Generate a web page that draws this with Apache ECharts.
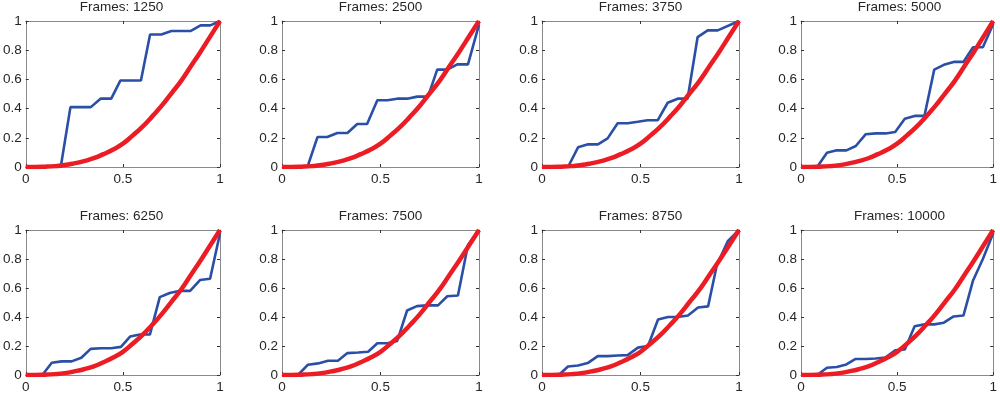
<!DOCTYPE html>
<html>
<head>
<meta charset="utf-8">
<script src="https://cdn.jsdelivr.net/npm/echarts@6/dist/echarts.min.js"></script>
<style>html,body{margin:0;padding:0;background:#fff}#c{width:1000px;height:394px}</style>
</head>
<body>
<div id="c"></div>
<script>
const panelTitles = ['Frames: 1250','Frames: 2500','Frames: 3750','Frames: 5000','Frames: 6250','Frames: 7500','Frames: 8750','Frames: 10000'];

const blue1250 = [[0,0],[0.18,0],[0.23,0.41],[0.335,0.41],[0.385,0.468],[0.44,0.468],[0.487,0.592],[0.593,0.592],[0.64,0.908],[0.698,0.908],[0.75,0.932],[0.85,0.932],[0.9,0.97],[0.95,0.97],[1,1]];
const blue2500 = [[0,0],[0.129,0],[0.18,0.205],[0.23,0.205],[0.281,0.233],[0.332,0.233],[0.382,0.295],[0.432,0.295],[0.484,0.457],[0.535,0.457],[0.585,0.468],[0.636,0.468],[0.687,0.482],[0.741,0.482],[0.788,0.667],[0.839,0.667],[0.89,0.703],[0.944,0.703],[1,0.975]];
const blue3750 = [[0,0],[0.132,0],[0.183,0.135],[0.234,0.155],[0.284,0.155],[0.333,0.196],[0.384,0.30],[0.435,0.30],[0.486,0.31],[0.536,0.32],[0.587,0.32],[0.638,0.44],[0.689,0.468],[0.739,0.468],[0.79,0.89],[0.841,0.936],[0.892,0.936],[1,1]];
const blue5000 = [[0,0],[0.084,0],[0.135,0.098],[0.186,0.114],[0.236,0.114],[0.285,0.144],[0.336,0.224],[0.389,0.23],[0.439,0.23],[0.49,0.24],[0.54,0.33],[0.591,0.35],[0.642,0.35],[0.693,0.667],[0.743,0.70],[0.794,0.72],[0.845,0.72],[0.895,0.82],[0.946,0.82],[1,0.98]];
const blue6250 = [[0,0],[0.085,0],[0.134,0.084],[0.185,0.094],[0.236,0.094],[0.286,0.119],[0.334,0.18],[0.388,0.185],[0.439,0.185],[0.49,0.194],[0.537,0.265],[0.588,0.279],[0.639,0.279],[0.69,0.537],[0.741,0.566],[0.788,0.58],[0.846,0.58],[0.897,0.655],[0.949,0.664],[1,0.977]];
const blue7500 = [[0,0],[0.081,0],[0.132,0.071],[0.183,0.08],[0.234,0.098],[0.284,0.098],[0.332,0.151],[0.386,0.155],[0.437,0.16],[0.484,0.219],[0.535,0.219],[0.585,0.235],[0.635,0.445],[0.685,0.475],[0.736,0.48],[0.792,0.48],[0.839,0.543],[0.893,0.548],[0.944,0.897],[1,1]];
const blue8750 = [[0,0],[0.085,0],[0.132,0.059],[0.183,0.066],[0.232,0.082],[0.283,0.13],[0.333,0.13],[0.384,0.135],[0.435,0.137],[0.487,0.189],[0.538,0.2],[0.589,0.383],[0.64,0.40],[0.689,0.40],[0.741,0.41],[0.792,0.466],[0.843,0.473],[0.888,0.76],[0.944,0.925],[1,1]];
const blue10000 = [[0,0],[0.084,0],[0.135,0.05],[0.186,0.055],[0.236,0.073],[0.282,0.11],[0.338,0.11],[0.389,0.114],[0.439,0.121],[0.49,0.171],[0.54,0.176],[0.591,0.336],[0.642,0.349],[0.693,0.349],[0.743,0.361],[0.794,0.404],[0.845,0.41],[0.895,0.652],[0.946,0.80],[1,0.98]];
const blueSeries = [blue1250, blue2500, blue3750, blue5000, blue6250, blue7500, blue8750, blue10000];

const refX = [0,0.05,0.1,0.15,0.2,0.25,0.3,0.35,0.4,0.45,0.5,0.55,0.6,0.65,0.7,0.75,0.8,0.85,0.9,0.95,1];
const refY = [0,0,0.002,0.006,0.013,0.025,0.04,0.06,0.088,0.12,0.16,0.215,0.275,0.345,0.42,0.505,0.59,0.69,0.79,0.895,1];

const xTicks = [0, 0.5, 1];
const yTicks = [0, 0.2, 0.4, 0.6, 0.8, 1];

const lefts = [23, 282, 542, 801];
const tops = [21, 230];
const W = 197, H = 146;
const FONT = 'Liberation Sans, Arial, sans-serif';
const FS = 13.5;

const grids = [], xAxes = [], yAxes = [], series = [], titles = [];
const refData = refX.map((x, i) => [x, refY[i]]);

for (let p = 0; p < 8; p++) {
  const r = Math.floor(p / 4), c = p % 4;
  grids.push({left: lefts[c], top: tops[r], width: W, height: H, containLabel: false});
  const lineStyle = {color: '#8a8a8a', width: 1};
  const tickStyle = {inside: true, length: 3, lineStyle: {color: '#333', width: 1}};
  xAxes.push({type: 'value', gridIndex: p, min: 0, max: 1, interval: 0.5, position: 'bottom',
    axisLine: {show: true, lineStyle}, axisTick: tickStyle, splitLine: {show: false},
    axisLabel: {color: '#262626', fontSize: FS, fontFamily: FONT, margin: 5,
      formatter: v => xTicks.includes(+v.toFixed(2)) ? String(+v.toFixed(2)) : ''}});
  xAxes.push({type: 'value', gridIndex: p, min: 0, max: 1, interval: 0.5, position: 'top',
    axisLine: {show: true, onZero: false, lineStyle}, axisTick: tickStyle, splitLine: {show: false},
    axisLabel: {show: false}});
  yAxes.push({type: 'value', gridIndex: p, min: 0, max: 1, interval: 0.2, position: 'left',
    axisLine: {show: true, lineStyle}, axisTick: tickStyle, splitLine: {show: false},
    axisLabel: {color: '#262626', fontSize: FS, fontFamily: FONT, margin: 4,
      formatter: v => String(+v.toFixed(2))}});
  yAxes.push({type: 'value', gridIndex: p, min: 0, max: 1, interval: 0.2, position: 'right',
    axisLine: {show: true, onZero: false, lineStyle}, axisTick: tickStyle, splitLine: {show: false},
    axisLabel: {show: false}});
  series.push({type: 'line', xAxisIndex: 2 * p, yAxisIndex: 2 * p, data: blueSeries[p],
    showSymbol: false, symbol: 'none', lineStyle: {color: '#2b4fa6', width: 2.6}, z: 2, animation: false});
  series.push({type: 'line', xAxisIndex: 2 * p, yAxisIndex: 2 * p, data: refData, smooth: 0.5,
    showSymbol: false, symbol: 'none', lineStyle: {color: '#ec1c24', width: 4.5}, z: 3, animation: false});
  titles.push({text: panelTitles[p], left: lefts[c] + W / 2, top: tops[r] - 21, textAlign: 'center', padding: 0,
    textStyle: {fontSize: FS, fontWeight: 'normal', color: '#262626', fontFamily: FONT}});
}

const chart = echarts.init(document.getElementById('c'), null, {renderer: 'canvas'});
chart.setOption({animation: false, backgroundColor: '#fff', title: titles, grid: grids, xAxis: xAxes, yAxis: yAxes, series});
</script>
</body>
</html>
